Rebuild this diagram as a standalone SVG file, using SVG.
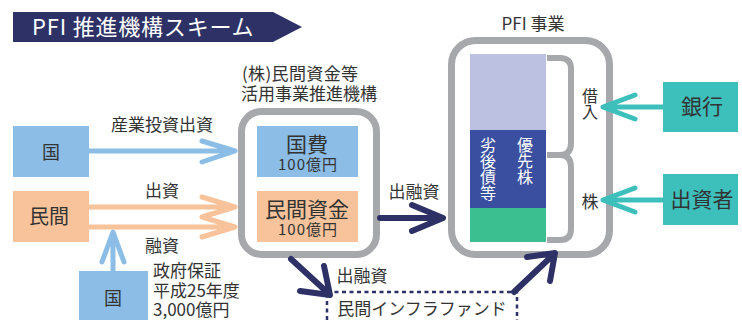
<svg xmlns="http://www.w3.org/2000/svg" width="742" height="320" viewBox="0 0 742 320">
<defs>
<style>
text{font-family:"Noto Sans CJK JP","Noto Sans",sans-serif;fill:#333;}
.lbl{font-size:17px;}
.big{font-size:21px;}
.mid{font-size:15px;letter-spacing:1px;}
.c{text-anchor:middle;}
.gray{fill:none;stroke:#a7a8ab;stroke-width:7;}
.blueA{fill:none;stroke:#8bbde6;stroke-width:5;stroke-linecap:round;stroke-linejoin:round;}
.orA{fill:none;stroke:#f8c39a;stroke-width:5;stroke-linecap:round;stroke-linejoin:round;}
.navyA{fill:none;stroke:#2e3166;stroke-width:6;stroke-linecap:round;stroke-linejoin:round;}
.tealA{fill:none;stroke:#3dbfbb;stroke-width:5;stroke-linecap:round;stroke-linejoin:round;}
.wv{fill:#ffffff;font-size:16px;writing-mode:vertical-rl;}
.vt{font-size:16px;writing-mode:vertical-rl;}
</style>
</defs>
<g id="title">
<polygon points="13,12 273,12 302,27 273,42 13,42" fill="#2e3166"/>
<text x="32" y="35" font-size="22" letter-spacing="0.8" style="fill:#ffffff">PFI 推進機構スキーム</text>
</g>
<g id="kuni1">
<rect x="13" y="126" width="76" height="51" fill="#8bbde6"/>
<text x="51" y="159" class="c" font-size="18">国</text>
</g>
<g id="minkan">
<rect x="13" y="191" width="76" height="51" fill="#f8c39a"/>
<text x="49" y="224" class="c" font-size="20">民間</text>
</g>
<g id="kuni2">
<rect x="79" y="271" width="69" height="52" fill="#8bbde6"/>
<text x="113" y="305" class="c" font-size="18">国</text>
</g>
<g id="kikou">
<text class="lbl c"><tspan x="300" y="80" textLength="116" lengthAdjust="spacing">(株)民間資金等</tspan><tspan x="309" y="100">活用事業推進機構</tspan></text>
<rect x="241.5" y="111.5" width="135" height="143" rx="20" class="gray"/>
<rect x="257" y="126" width="101" height="51" fill="#8bbde6"/>
<text class="c"><tspan x="307" y="152" class="big">国費</tspan><tspan x="308" y="170" class="mid">100億円</tspan></text>
<rect x="257" y="191" width="101" height="51" fill="#f8c39a"/>
<text class="c"><tspan x="307" y="217" class="big">民間資金</tspan><tspan x="308" y="235" class="mid">100億円</tspan></text>
</g>
<g id="pfi">
<text x="533" y="30" class="lbl c">PFI 事業</text>
<rect x="451.5" y="40.5" width="158" height="214" rx="24" class="gray"/>
<rect x="470" y="54" width="76" height="76" fill="#bcc1e1"/>
<rect x="470" y="130" width="76" height="78" fill="#3a4f9f"/>
<rect x="470" y="208" width="76" height="34" fill="#3bbe90"/>
<text x="488" y="137" class="wv">劣後債等</text>
<text x="525" y="137" class="wv">優先株</text>
<path d="M547,58 H560 Q571,58 571,69 V143 Q571,155 560,155 H547 M560,155 Q571,155 571,167 V229 Q571,240 560,240 H547" fill="none" stroke="#a7a8ab" stroke-width="6"/>
<text x="590" y="88" class="vt">借入</text>
<text x="590" y="208" class="lbl c">株</text>
</g>
<g id="bank">
<rect x="663" y="82" width="75" height="50" fill="#3dbfbb"/>
<text x="702" y="114" class="big c">銀行</text>
</g>
<g id="investor">
<rect x="663" y="174" width="75" height="51" fill="#3dbfbb"/>
<text x="702" y="207" class="big c">出資者</text>
</g>
<g id="fund">
<rect x="327" y="292" width="190" height="34" fill="none" stroke="#2e3166" stroke-width="2.5" stroke-dasharray="4 3.5"/>
<text x="422" y="315" class="c" font-size="17">民間インフラファンド</text>
</g>
<g id="connectors">
<path d="M89,151 H233 M202,141 L235,151 L202,162" class="blueA"/>
<path d="M89,207 H233 M89,227 H233 M202,197 L235,207 L202,217 L235,227 L202,237" class="orA"/>
<path d="M113,271 V234 M102,262 L113,232 L124,262" class="blueA"/>
<path d="M380,218 H441 M412,205 L443,218 L412,231" class="navyA"/>
<path d="M291,259 L328,293 M300,291 L330,295 L324,266" class="navyA"/>
<path d="M514,292 L553,255 M527,257 L555,253 L550,281" class="navyA"/>
<path d="M663,107 H606 M635,95 L603,107 L635,119" class="tealA"/>
<path d="M663,200 H606 M635,188 L603,200 L635,212" class="tealA"/>
<text x="162" y="131" class="lbl c">産業投資出資</text>
<text x="162" y="197" class="lbl c">出資</text>
<text x="162" y="252" class="lbl c">融資</text>
<text class="lbl"><tspan x="153" y="277">政府保証</tspan><tspan x="153" y="297">平成25年度</tspan><tspan x="153" y="316">3,000億円</tspan></text>
<text x="414" y="198" class="lbl c">出融資</text>
<text x="362" y="282" class="lbl c">出融資</text>
</g>
</svg>
